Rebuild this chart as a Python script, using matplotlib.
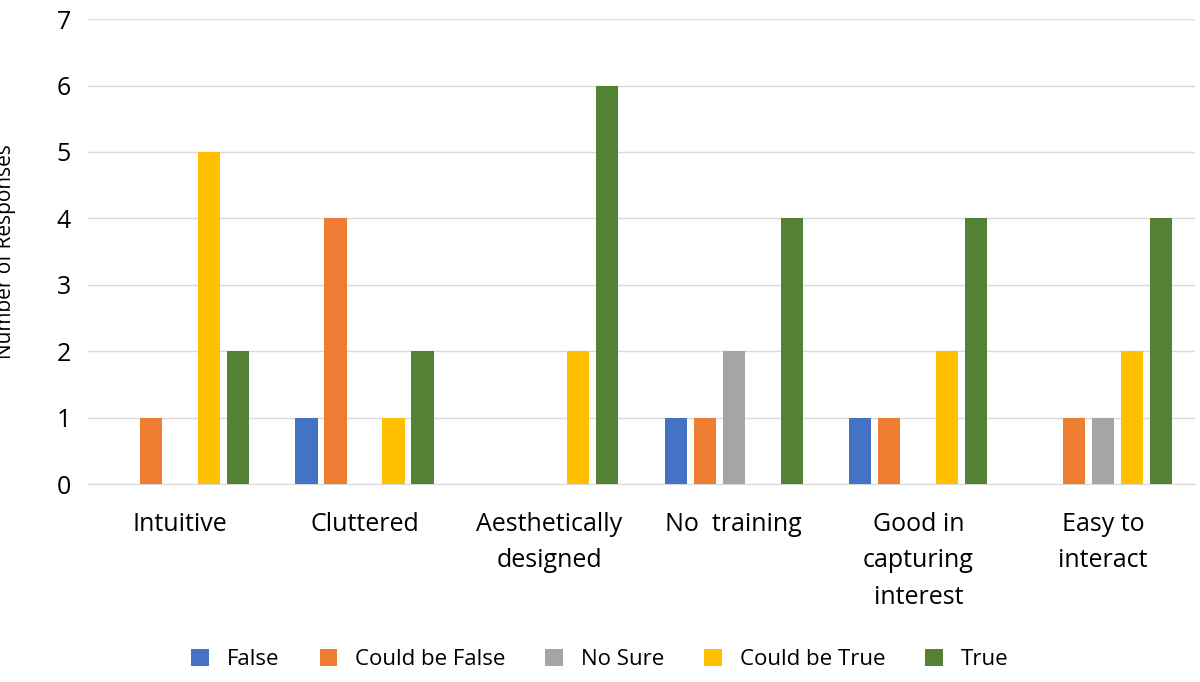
import matplotlib
matplotlib.use("Agg")
import matplotlib.pyplot as plt
import numpy as np

categories = ["Intuitive", "Cluttered", "Aesthetically\ndesigned", "No  training",
              "Good in\ncapturing\ninterest", "Easy to\ninteract"]
series = ["False", "Could be False", "No Sure", "Could be True", "True"]
false_v = [0, 1, 0, 1, 1, 0]
cbf_v = [1, 4, 0, 1, 1, 1]
nosure_v = [0, 0, 0, 2, 0, 1]
cbt_v = [5, 1, 2, 0, 2, 2]
true_v = [2, 2, 6, 4, 4, 4]
values = [false_v, cbf_v, nosure_v, cbt_v, true_v]
colors = ["#4472C4", "#ED7D31", "#A5A5A5", "#FFC000", "#548235"]

plt.rcParams['font.family'] = ['Open Sans', 'DejaVu Sans']
fig = plt.figure(figsize=(12, 6.82), dpi=100)
ax = fig.add_axes([0.073, 0.29, 0.923, 0.682])
x = np.arange(len(categories))
w = 0.12
step = 0.157
for i, (s, v, c) in enumerate(zip(series, values, colors)):
    ax.bar(x + (i - 2) * step, v, width=w, color=c, label=s, zorder=3)
ax.set_xlim(-0.5, len(categories) - 0.5)
ax.set_ylim(0, 7)
ax.set_yticks(range(8))
ax.yaxis.grid(True, color="#D9D9D9", linewidth=1, zorder=0)
ax.set_xticks(x)
ax.set_xticklabels(categories, fontsize=18, linespacing=1.6)
ax.tick_params(axis='y', labelsize=18, length=0, pad=12)
ax.tick_params(axis='x', length=0, pad=20)
for sp in ["top", "right", "left"]:
    ax.spines[sp].set_visible(False)
ax.spines["bottom"].set_color("#D9D9D9")
ax.set_ylabel("Number of Responses", fontsize=15)
ax.yaxis.set_label_coords(-0.065, 0.5)
fig.legend(loc="lower center", ncol=5, frameon=False, fontsize=16,
           bbox_to_anchor=(0.5, -0.012), handlelength=0.8, handleheight=0.8, columnspacing=1.8)
fig.savefig("out.png")
